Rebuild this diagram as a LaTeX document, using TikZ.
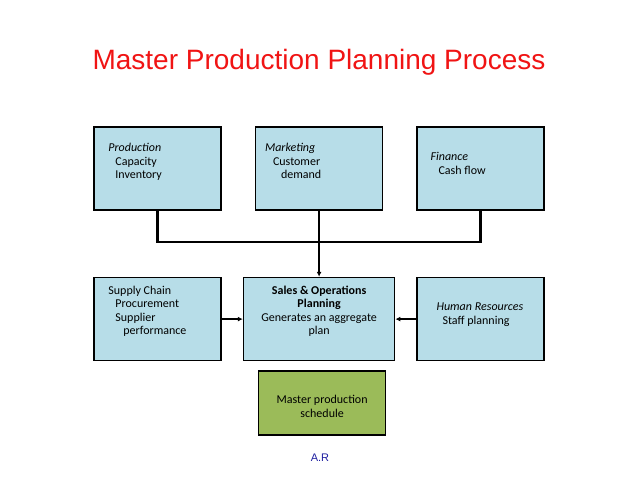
\documentclass[tikz,border=0pt]{standalone}
\usepackage{fontspec}
\setmainfont{Carlito}
\newfontfamily\titlefont{Liberation Sans}
\usetikzlibrary{arrows.meta, positioning}

\definecolor{boxblue}{RGB}{183,221,232}
\definecolor{boxgreen}{RGB}{155,187,89}
\definecolor{titlered}{RGB}{240,20,20}
\definecolor{signblue}{RGB}{30,30,160}

\begin{document}
\begin{tikzpicture}[
            x=1pt, y=-1pt,
            box/.style={draw, line width=1.6pt, fill=boxblue, minimum width=127pt, minimum height=83pt},
            boxtext/.style={anchor=north west, inner sep=0pt, align=left, font=\fontsize{12}{13.5}\selectfont},
            link/.style={draw, line width=2.6pt},
            flow/.style={draw, line width=2pt, -{Latex[length=5pt, width=5pt]}},
            node distance=33pt
        ]
            \useasboundingbox (0,0) rectangle (638,479);

            % Title
            \node[font=\titlefont\fontsize{28}{32}\selectfont, text=titlered] (title) at (319,62) {Master Production Planning Process};

            % Top row
            \node[box] (prod) at (157.5,168.5) {};
            \node[box, right=of prod] (mkt) {};
            \node[box, right=of mkt] (fin) {};

            % Middle row
            \node[box, below=66pt of prod] (sc) {};
            \node[box, minimum width=151pt] (sop) at (mkt |- sc) {};
            \node[box] (hr) at (fin |- sc) {};

            % Schedule
            \node[box, fill=boxgreen, minimum height=64pt, below=9pt of sop, xshift=3pt] (msched) {};

            % Box texts
            \node[boxtext] (prodtxt) at ([xshift=15pt, yshift=-17pt]prod.north west)
                {\textit{Production}\\\hspace*{7pt}Capacity\\\hspace*{7pt}Inventory};
            \node[boxtext] (mkttxt) at ([xshift=10pt, yshift=-17pt]mkt.north west)
                {\textit{Marketing}\\\hspace*{8pt}Customer\\\hspace*{16pt}demand};
            \node[boxtext] (fintxt) at ([xshift=14pt, yshift=-26pt]fin.north west)
                {\textit{Finance}\\\hspace*{8pt}Cash flow};
            \node[boxtext] (sctxt) at ([xshift=15pt, yshift=-9pt]sc.north west)
                {Supply Chain\\\hspace*{7pt}Procurement\\\hspace*{7pt}Supplier\\\hspace*{15pt}performance};
            \node[boxtext, anchor=north, align=center] (soptxt) at ([yshift=-9pt]sop.north)
                {\textbf{Sales \& Operations}\\\textbf{Planning}\\Generates an aggregate\\plan};
            \node[boxtext] (hrtxt) at ([xshift=20pt, yshift=-26pt]hr.north west)
                {\textit{Human Resources}\\\hspace*{6pt}Staff planning};
            \node[boxtext, anchor=center, align=center] (mschedtxt) at ([yshift=-3pt]msched.center)
                {Master production\\schedule};

            % Signature
            \node[font=\titlefont\fontsize{11}{13}\selectfont, text=signblue] (sign) at (320,458) {A.R};

            % Connectors
            \coordinate (bus) at (319,242);
            \draw[link] (prod.south) -- (prod.south |- bus) -- (fin.south |- bus) -- (fin.south);
            \draw[flow] (mkt.south) -- (sop.north);
            \draw[flow] (sc.east) -- (sop.west);
            \draw[flow] (hr.west) -- (sop.east);

        \end{tikzpicture}
\end{document}
